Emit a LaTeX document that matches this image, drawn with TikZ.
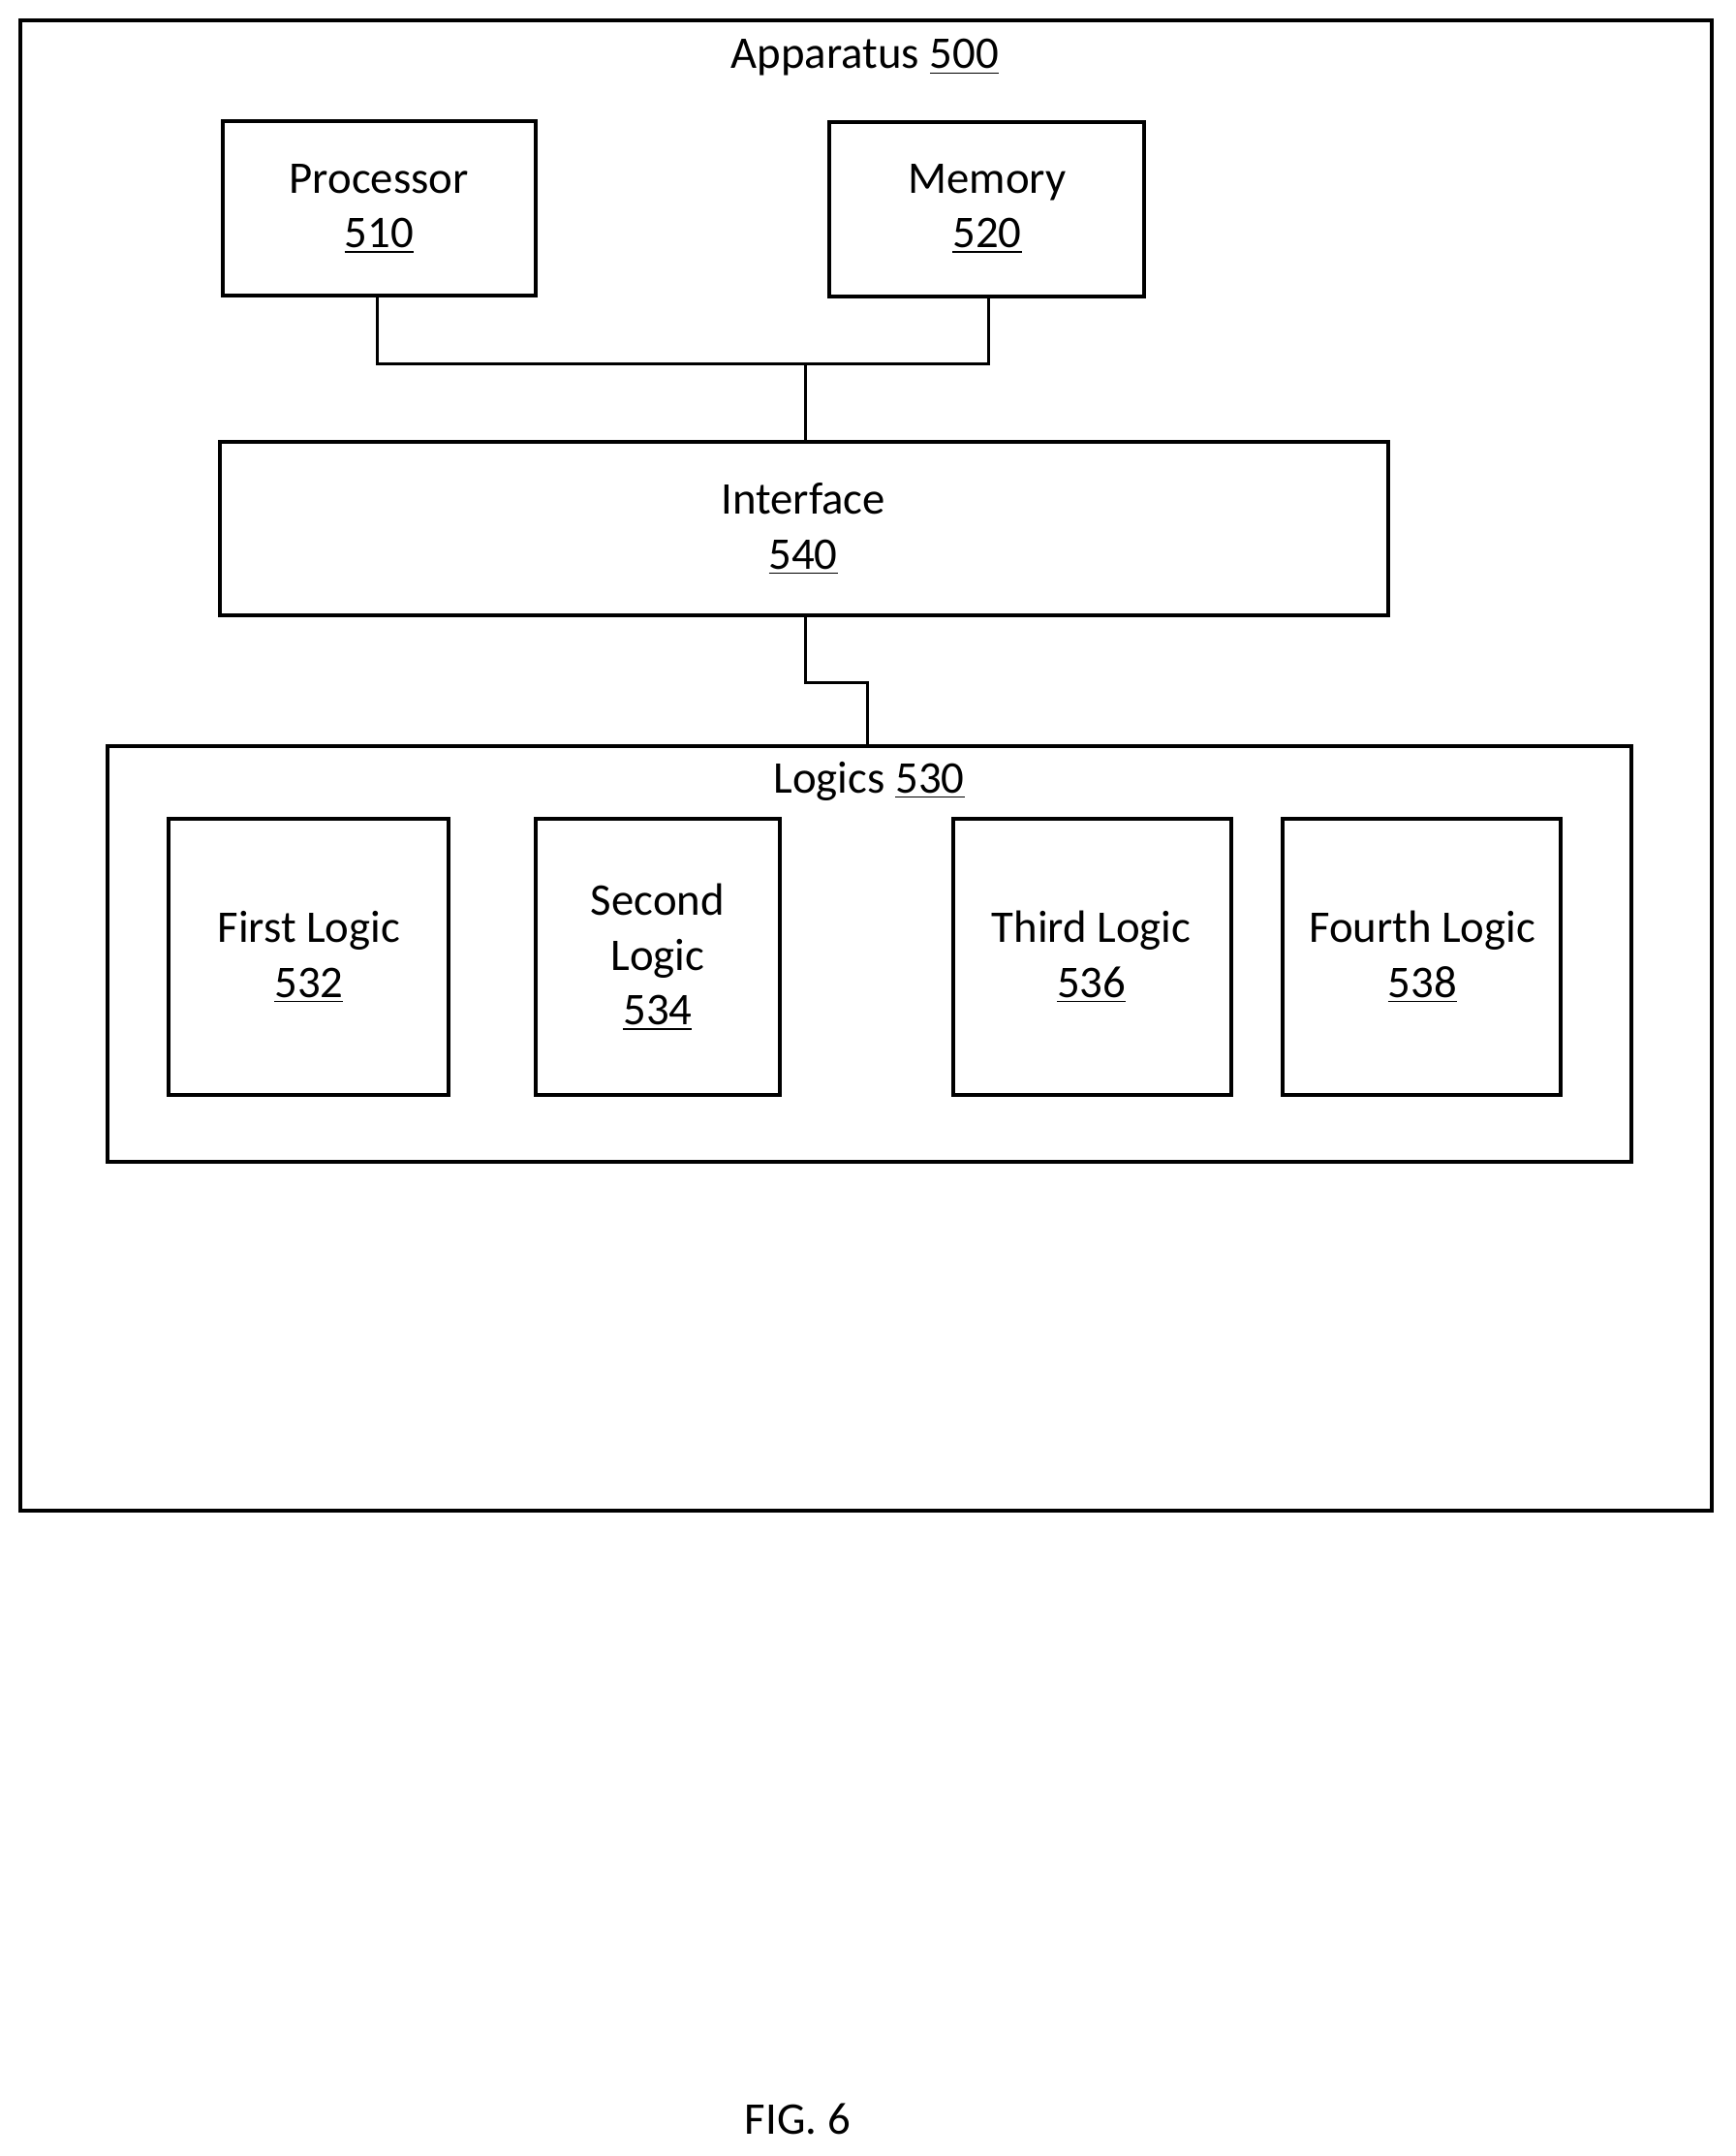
\documentclass[tikz,border=0pt]{standalone}
\usepackage{fontspec}
\setmainfont{Carlito}
\begin{document}
\begin{tikzpicture}[x=0.5pt,y=-0.5pt,
 box/.style={draw,line width=1.4pt},
 lbl/.style={font=\fontsize{16.5}{20}\selectfont,align=center},
 wire/.style={line width=1pt}]
\useasboundingbox (0,0) rectangle (1264,1570);
\draw[box] (15,15) rectangle (1247,1100);
\node[lbl] (app) at (630,42) {Apparatus \underline{500}};
\draw[box] (162,88) rectangle (390,215);
\node[lbl] (proc) at (276,152) {Processor\\\underline{510}};
\draw[box] (604,89) rectangle (833,216);
\node[lbl] (mem) at (719,152) {Memory\\\underline{520}};
\draw[box] (160,322) rectangle (1011,448);
\node[lbl] (intf) at (585,385) {Interface\\\underline{540}};
\coordinate (pb) at (275,215); \coordinate (mb) at (720,216);
\coordinate (it) at (587,322); \coordinate (ib) at (587,448); \coordinate (lt) at (632,543);
\draw[wire] (pb) -- (275,265) -- (720,265) -- (mb);
\draw[wire] (587,265) -- (it);
\draw[wire] (ib) -- (587,497) -- (632,497) -- (lt);
\draw[box] (78,543) rectangle (1188,846);
\node[lbl] (log) at (633,569) {Logics \underline{530}};
\draw[box] (123,596) rectangle (327,797);
\node[lbl] (l1) at (225,697) {First Logic\\\underline{532}};
\draw[box] (390,596) rectangle (568,797);
\node[lbl] (l2) at (479,697) {Second\\Logic\\\underline{534}};
\draw[box] (694,596) rectangle (897,797);
\node[lbl] (l3) at (795,697) {Third Logic\\\underline{536}};
\draw[box] (934,596) rectangle (1137,797);
\node[lbl] (l4) at (1036,697) {Fourth Logic\\\underline{538}};
\node[lbl] (fig) at (581,1543) {FIG. 6};
\end{tikzpicture}
\end{document}
